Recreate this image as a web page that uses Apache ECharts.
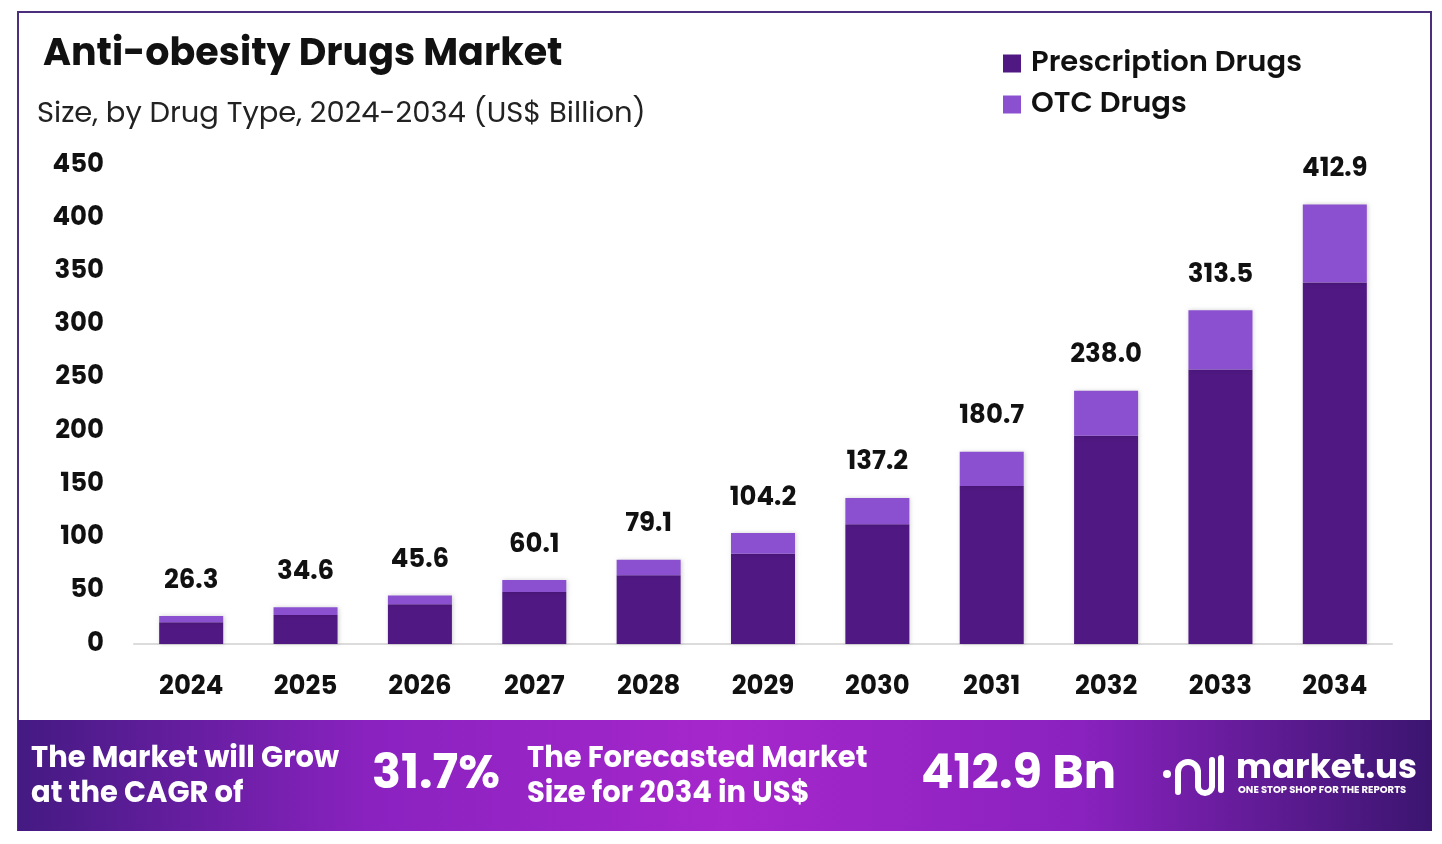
<!DOCTYPE html>
<html>
<head>
<meta charset="utf-8">
<title>Anti-obesity Drugs Market</title>
<script src="https://cdn.jsdelivr.net/npm/echarts@6/dist/echarts.min.js"></script>
<style>
  html, body { margin: 0; padding: 0; background: #fff; }
  #main { width: 1442px; height: 844px; }
</style>
</head>
<body>
<div id="main"></div>
<script>
// data
var years = ['2024', '2025', '2026', '2027', '2028', '2029', '2030', '2031', '2032', '2033', '2034'];
var prescription = [20.4, 27.2, 37.3, 48.8, 64.5, 84.8, 112.4, 148.4, 195.6, 257.9, 339.6];
var otc = [5.9, 7.4, 8.3, 11.3, 14.6, 19.4, 24.8, 32.3, 42.4, 55.6, 73.3];
var totals = [26.3, 34.6, 45.6, 60.1, 79.1, 104.2, 137.2, 180.7, 238.0, 313.5, 412.9];
var yTicks = [0, 450, 50]; // min, max, interval

var FONT = 'Poppins, Inter, Lato, sans-serif';
var darkColor = '#4f1882';
var lightColor = '#8b50d0';

var chart = echarts.init(document.getElementById('main'));

// white strokes for the little logo mark
var logoStroke = { fill: 'none', stroke: '#fff', lineWidth: 6, lineCap: 'round' };

var option = {
  backgroundColor: '#ffffff',
  animation: false,
  title: [
    {
      text: 'Anti-obesity Drugs Market',
      left: 38, top: 31,
      textStyle: { fontFamily: FONT, fontSize: 38, fontWeight: 'bold', color: '#111' }
    },
    {
      text: 'Size, by Drug Type, 2024-2034 (US$ Billion)',
      left: 32, top: 95,
      textStyle: { fontFamily: FONT, fontSize: 29, fontWeight: 'normal', color: '#222' }
    }
  ],
  legend: {
    orient: 'vertical',
    left: 998, top: 44,
    itemWidth: 18, itemHeight: 18, itemGap: 12,
    icon: 'rect',
    data: ['Prescription Drugs', 'OTC Drugs'],
    textStyle: { fontFamily: FONT, fontSize: 29, fontWeight: 600, color: '#111', padding: [0, 0, 0, 5] }
  },
  grid: { left: 134, right: 50, top: 165, bottom: 200, containLabel: false },
  xAxis: {
    type: 'category',
    data: years,
    axisLine: { lineStyle: { color: '#dcdcdc', width: 2 } },
    axisTick: { show: false },
    axisLabel: { margin: 30, fontFamily: FONT, fontSize: 26, fontWeight: 'bold', color: '#111' }
  },
  yAxis: {
    type: 'value',
    min: yTicks[0], max: yTicks[1], interval: yTicks[2],
    axisLine: { show: false },
    axisTick: { show: false },
    splitLine: { show: false },
    axisLabel: { margin: 30, fontFamily: FONT, fontSize: 26, fontWeight: 'bold', color: '#111' }
  },
  series: [
    {
      name: 'Prescription Drugs',
      type: 'bar',
      stack: 'total',
      barWidth: 64,
      data: prescription,
      itemStyle: { color: darkColor, shadowBlur: 4, shadowColor: 'rgba(0,0,0,0.18)', shadowOffsetX: 1 }
    },
    {
      name: 'OTC Drugs',
      type: 'bar',
      stack: 'total',
      barWidth: 64,
      data: otc,
      itemStyle: { color: lightColor, shadowBlur: 4, shadowColor: 'rgba(0,0,0,0.18)', shadowOffsetX: 1 },
      label: {
        show: true,
        position: 'top',
        distance: 22,
        fontFamily: FONT, fontSize: 26, fontWeight: 'bold', color: '#111',
        formatter: function (p) { return totals[p.dataIndex].toFixed(1); }
      }
    }
  ],
  graphic: [
    // frame
    {
      type: 'rect', silent: true, z: -1,
      shape: { x: 18, y: 12, width: 1413, height: 818 },
      style: { fill: 'none', stroke: '#4b2f7c', lineWidth: 2 }
    },
    // footer banner
    {
      type: 'rect', silent: true,
      shape: { x: 18, y: 720, width: 1414, height: 111 },
      style: {
        fill: new echarts.graphic.LinearGradient(0, 0, 1, 0, [
          { offset: 0, color: '#441a82' },
          { offset: 0.25, color: '#8a22c0' },
          { offset: 0.5, color: '#a627cc' },
          { offset: 0.75, color: '#8a22bf' },
          { offset: 1, color: '#3b1570' }
        ])
      }
    },
    {
      type: 'text', left: 31, top: 742,
      style: {
        text: 'The Market will Grow\nat the CAGR of',
        fill: '#fff', font: 'bold 29px ' + FONT, lineHeight: 35,
        shadowBlur: 4, shadowColor: 'rgba(0,0,0,0.35)', shadowOffsetY: 2
      }
    },
    {
      type: 'text', left: 372, top: 752,
      style: {
        text: '31.7%', fill: '#fff', font: 'bold 48px ' + FONT,
        shadowBlur: 6, shadowColor: 'rgba(0,0,0,0.45)', shadowOffsetY: 3
      }
    },
    {
      type: 'text', left: 527, top: 742,
      style: {
        text: 'The Forecasted Market\nSize for 2034 in US$',
        fill: '#fff', font: 'bold 29px ' + FONT, lineHeight: 35,
        shadowBlur: 4, shadowColor: 'rgba(0,0,0,0.35)', shadowOffsetY: 2
      }
    },
    {
      type: 'text', left: 921, top: 752,
      style: {
        text: '412.9 Bn', fill: '#fff', font: 'bold 48px ' + FONT,
        shadowBlur: 6, shadowColor: 'rgba(0,0,0,0.45)', shadowOffsetY: 3
      }
    },
    // market.us logo
    { type: 'circle', silent: true, shape: { cx: 1167, cy: 774, r: 4 }, style: { fill: '#fff' } },
    { type: 'line', silent: true, shape: { x1: 1178, y1: 792, x2: 1178, y2: 772 }, style: logoStroke },
    { type: 'arc', silent: true, shape: { cx: 1188, cy: 772, r: 10, startAngle: Math.PI, endAngle: 2 * Math.PI, clockwise: true }, style: logoStroke },
    { type: 'line', silent: true, shape: { x1: 1198, y1: 772, x2: 1198, y2: 786 }, style: logoStroke },
    { type: 'arc', silent: true, shape: { cx: 1205, cy: 786, r: 7, startAngle: 0, endAngle: Math.PI, clockwise: true }, style: logoStroke },
    { type: 'line', silent: true, shape: { x1: 1212, y1: 786, x2: 1212, y2: 760 }, style: logoStroke },
    { type: 'line', silent: true, shape: { x1: 1221, y1: 758, x2: 1221, y2: 790 }, style: logoStroke },
    {
      type: 'text', left: 1236, top: 752,
      style: { text: 'market.us', fill: '#fff', font: 'bold 34px ' + FONT }
    },
    {
      type: 'text', left: 1238, top: 785,
      style: { text: 'ONE STOP SHOP FOR THE REPORTS', fill: '#fff', font: 'bold 10px ' + FONT }
    }
  ]
};

chart.setOption(option);
</script>
</body>
</html>
